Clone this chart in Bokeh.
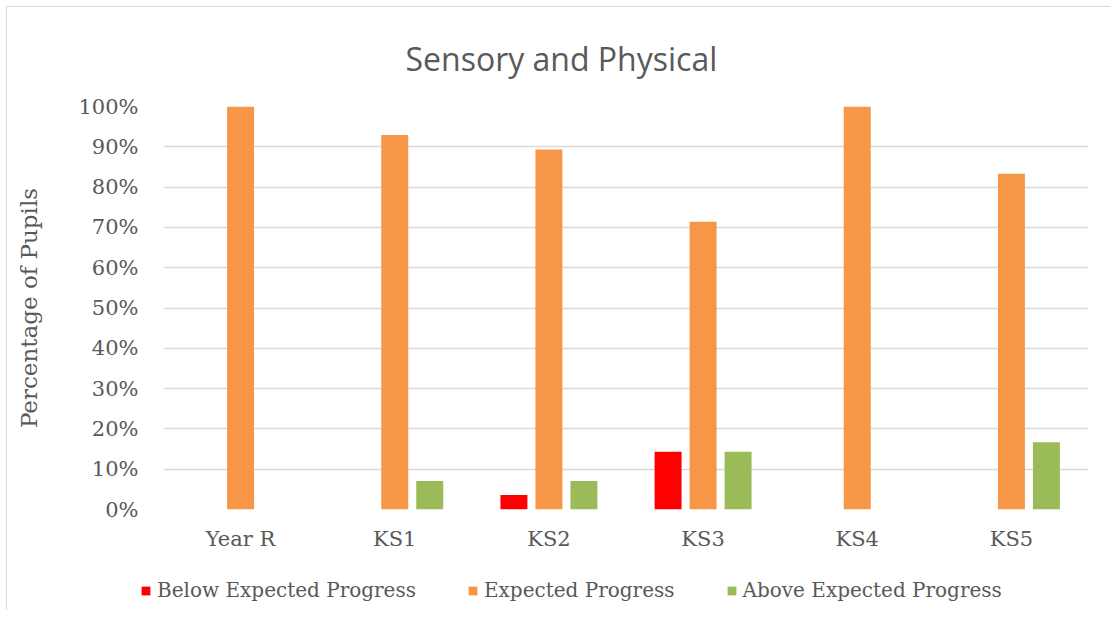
from bokeh.plotting import figure
from bokeh.models import Range1d, NumeralTickFormatter, FixedTicker, Legend, LegendItem, ColumnDataSource
from bokeh.transform import dodge
from bokeh.embed import file_html
from bokeh.resources import INLINE

categories = ["Year R", "KS1", "KS2", "KS3", "KS4", "KS5"]
below = [0.0, 0.0, 0.036, 0.143, 0.0, 0.0]
expected = [1.0, 0.929, 0.893, 0.714, 1.0, 0.833]
above = [0.0, 0.071, 0.071, 0.143, 0.0, 0.167]
y_ticks = [0, 0.1, 0.2, 0.3, 0.4, 0.5, 0.6, 0.7, 0.8, 0.9, 1.0]
series_names = ["Below Expected Progress", "Expected Progress", "Above Expected Progress"]
series_colors = ["#FF0000", "#F79646", "#9BBB59"]

src = ColumnDataSource(dict(cat=categories, below=below, expected=expected, above=above))

TXT = "#595959"
SERIF = "DejaVu Serif"

p = figure(x_range=categories, y_range=Range1d(0, 1), frame_width=925, frame_height=403,
           output_backend="svg", toolbar_location=None,
           min_border_left=156, min_border_right=22, min_border_top=99, min_border_bottom=61)

bw = 0.175
pitch = 0.227
p.vbar(x=dodge("cat", -pitch, range=p.x_range), top="below", width=bw, source=src,
       fill_color=series_colors[0], line_color=None)
p.vbar(x=dodge("cat", 0, range=p.x_range), top="expected", width=bw, source=src,
       fill_color=series_colors[1], line_color=None)
p.vbar(x=dodge("cat", pitch, range=p.x_range), top="above", width=bw, source=src,
       fill_color=series_colors[2], line_color=None)

p.title.text = "Sensory and Physical"
p.title.text_font = "Open Sans"
p.title.text_font_size = "32px"
p.title.text_font_style = "normal"
p.title.text_color = TXT
p.title.align = "left"
p.title.offset = 242
p.title.standoff = 54

p.outline_line_color = None
p.xgrid.grid_line_color = None
p.ygrid.grid_line_color = "#D9D9D9"
p.ygrid.grid_line_width = 1.5

p.yaxis.ticker = FixedTicker(ticks=y_ticks)
p.yaxis.formatter = NumeralTickFormatter(format="0%")
p.yaxis.axis_label = "Percentage of Pupils"
p.yaxis.axis_label_text_font = SERIF
p.yaxis.axis_label_text_font_size = "23px"
p.yaxis.axis_label_text_font_style = "normal"
p.yaxis.axis_label_text_color = TXT
p.yaxis.axis_label_standoff = 33
p.yaxis.major_label_standoff = 19

for ax in (p.xaxis, p.yaxis):
    ax.axis_line_color = None
    ax.major_tick_line_color = None
    ax.minor_tick_line_color = None
    ax.major_label_text_font = SERIF
    ax.major_label_text_font_size = "21px"
    ax.major_label_text_color = TXT
p.xaxis.major_label_standoff = 11

p.styles = {"margin-left": "6px", "margin-top": "6px",
            "border-left": "1px solid #D9D9D9", "border-top": "1px solid #D9D9D9"}

# Legend strip below the chart (separate root so its frame spans the full width)
p2 = figure(width=1103, height=40, x_range=Range1d(0, 1), y_range=Range1d(0, 1),
            output_backend="svg", toolbar_location=None,
            min_border_left=0, min_border_right=0, min_border_top=0, min_border_bottom=0)
p2.axis.visible = False
p2.grid.visible = False
p2.outline_line_color = None
items = []
for name, color in zip(series_names, series_colors):
    r = p2.vbar(x=[0.5], top=[0.0], bottom=[0.0], width=0.0, fill_color=color, line_color=None)
    items.append(LegendItem(label=name, renderers=[r]))

leg = Legend(items=items)
leg.orientation = "horizontal"
leg.location = (133, 8)
leg.margin = 0
leg.padding = 0
leg.spacing = 51
leg.label_standoff = 6
leg.glyph_width = 11
leg.glyph_height = 11
leg.label_text_font = SERIF
leg.label_text_font_size = "20px"
leg.label_text_color = TXT
leg.border_line_color = None
leg.background_fill_alpha = 0
p2.add_layout(leg, "center")
p2.styles = {"margin-left": "6px", "border-left": "1px solid #D9D9D9"}

open("out.html", "w").write(file_html([p, p2], INLINE))
